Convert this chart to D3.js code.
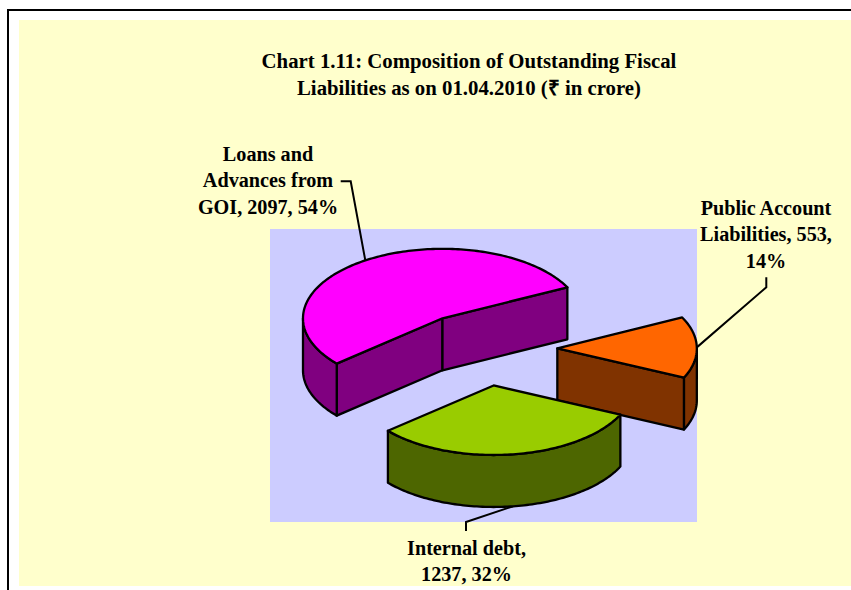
<!DOCTYPE html>
<html>
<head>
<meta charset="utf-8">
<script src="https://cdn.jsdelivr.net/npm/d3@7/dist/d3.min.js"></script>
<style>
html,body{margin:0;padding:0;background:#fff;overflow:hidden}
svg{display:block}
text{font-family:"Liberation Serif","Times New Roman",serif;font-weight:bold;fill:#000;font-size:20.2px}
text.t{font-size:20.8px}
</style>
</head>
<body>
<svg id="c" width="851" height="590"></svg>
<script>
// Data
const categories = ["Loans and Advances from GOI", "Public Account Liabilities", "Internal debt"];
const values = [2097, 553, 1237];
const percents = ["54%", "14%", "32%"];
const titleLines = ["Chart 1.11: Composition of Outstanding Fiscal", "Liabilities as on 01.04.2010 (₹ in crore)"];
const labelLines = [
  ["Loans and", "Advances from", "GOI, 2097, 54%"],
  ["Public Account", "Liabilities, 553,", "14%"],
  ["Internal debt,", "1237, 32%"]
];
const topColors = ["#FF00FF", "#FF6600", "#99CC00"];
const sideColors = ["#800080", "#803300", "#4D6600"];

// Layout
const W = 851, H = 590;
const cx = 483.4, cy = 349, rx = 139.5, ry = 69.5, depth = 52, explode = 0.53, strokeW = 2.3;
const firstAngle = 229.3 * Math.PI / 180;
const labelCenters = [[268, 160.7], [766, 214.7], [466.5, 555]];
const labelElbows = [
  [[350.7, 181.3], [340.7, 181.3]],
  [[766.3, 287.3], [766.3, 277.3]],
  [[466, 522], [466, 531]]
];

const svg = d3.select("#c");
svg.append("rect").attr("x", 19).attr("y", 20).attr("width", W - 19).attr("height", 566).attr("fill", "#FFFFCC");
svg.append("path").attr("d", "M8,590V10H851").attr("fill", "none").attr("stroke", "#000").attr("stroke-width", 2);
svg.append("rect").attr("x", 270).attr("y", 229).attr("width", 427).attr("height", 293).attr("fill", "#CCCCFF");

// Title
svg.selectAll("text.t").data(titleLines).join("text").attr("class", "t")
  .attr("x", 469).attr("y", (d, i) => 67.7 + i * 27).attr("text-anchor", "middle").text(d => d);

// Unit-circle to screen scales
const sx = d3.scaleLinear().domain([-1, 1]).range([cx - rx, cx + rx]);
const sy = d3.scaleLinear().domain([-1, 1]).range([cy - ry, cy + ry]);

const arcs = d3.pie().sort(null).startAngle(firstAngle).endAngle(firstAngle + 2 * Math.PI)(values);

const line = d3.line();
function rimPoints(o, a0, a1, dz) {
  const n = Math.max(2, Math.ceil(Math.abs(a1 - a0) / 0.02));
  return d3.range(n + 1).map(i => {
    const a = a0 + (a1 - a0) * i / n;
    return [sx(o[0] + Math.sin(a)), sy(o[1] - Math.cos(a)) + dz];
  });
}
function apex(d) {
  const m = (d.startAngle + d.endAngle) / 2;
  return [explode * Math.sin(m), -explode * Math.cos(m)];
}
function pt(o, a, dz) { return [sx(o[0] + (a === null ? 0 : Math.sin(a))), sy(o[1] - (a === null ? 0 : Math.cos(a))) + dz]; }

// Leader lines behind slices
arcs.forEach((d, i) => {
  const o = apex(d), m = (d.startAngle + d.endAngle) / 2;
  const below = Math.cos(m) < -0.5 ? depth : 0;
  svg.append("path").attr("fill", "none").attr("stroke", "#000").attr("stroke-width", 2)
    .attr("d", line([pt(o, m, below), ...labelElbows[i]]));
});

// Slices, back to front
const stroke = s => s.attr("stroke", "#000").attr("stroke-width", strokeW).attr("stroke-linejoin", "round");
arcs.forEach((d, i) => {
  const o = apex(d), g = svg.append("g");
  const a0 = d.startAngle, a1 = d.endAngle;
  // cut faces facing the viewer
  [[a0, Math.sin(a0) < 0], [a1, Math.sin(a1) > 0]].forEach(([a, vis]) => {
    if (!vis) return;
    const p = pt(o, a, 0), c = pt(o, null, 0);
    g.append("path").attr("fill", sideColors[i]).call(stroke)
      .attr("d", line([c, p, [p[0], p[1] + depth], [c[0], c[1] + depth]]) + "Z");
  });
  // outer wall: visible where the rim faces the viewer
  for (let k = 0; k < 2; k++) {
    const lo = Math.max(a0, Math.PI / 2 + k * 2 * Math.PI), hi = Math.min(a1, 1.5 * Math.PI + k * 2 * Math.PI);
    if (hi > lo) {
      g.append("path").attr("fill", sideColors[i]).call(stroke)
        .attr("d", line([...rimPoints(o, lo, hi, 0), ...rimPoints(o, hi, lo, depth)]) + "Z");
    }
  }
  // top face
  g.append("path").attr("fill", topColors[i]).call(stroke)
    .attr("d", line([pt(o, null, 0), ...rimPoints(o, a0, a1, 0)]) + "Z");
});

// Data labels
labelLines.forEach((lines, i) => {
  svg.selectAll("text.l" + i).data(lines).join("text").attr("class", "l" + i)
    .attr("x", labelCenters[i][0]).attr("y", (d, k) => labelCenters[i][1] + k * 26.4)
    .attr("text-anchor", "middle").text(d => d);
});
</script>
</body>
</html>
